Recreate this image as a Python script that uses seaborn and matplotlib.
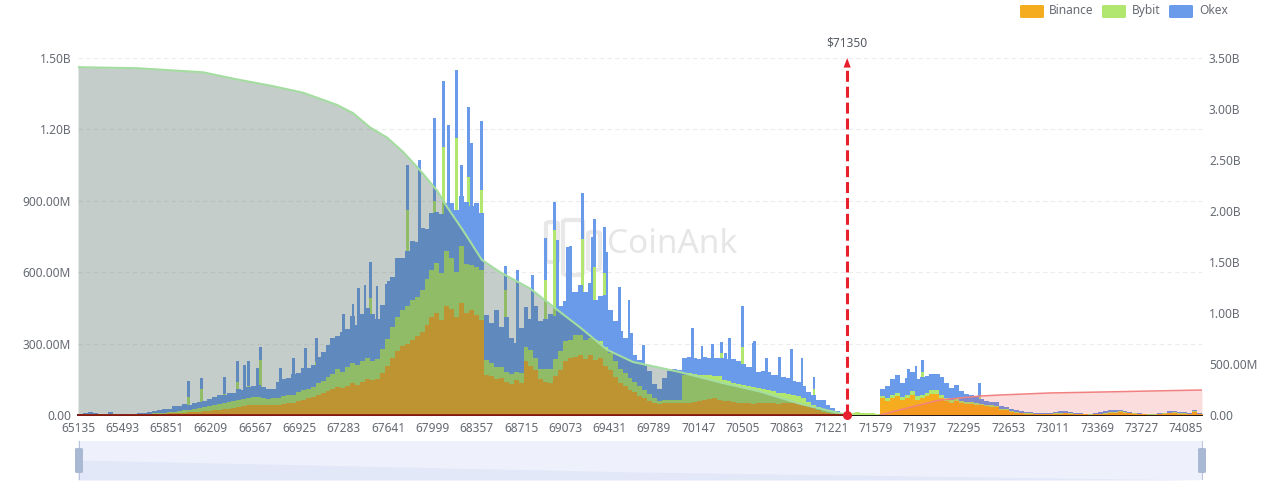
import numpy as np
import pandas as pd
import seaborn as sns
import matplotlib.pyplot as plt
from matplotlib.patches import FancyBboxPatch, Rectangle

# liquidation leverage per 40 USD price level, in millions
binance = [
    1, 3, 4, 3, 2, 2, 3, 2, 1, 1,
    1, 2, 3, 3, 4, 5, 5, 6, 7, 8,
    8, 10, 11, 13, 14, 16, 18, 20, 21, 24,
    25, 28, 32, 36, 40, 42, 44, 42, 40, 42,
    42, 46, 50, 52, 58, 64, 70, 75, 85, 92,
    100, 108, 118, 112, 122, 135, 128, 140, 150, 145,
    150, 178, 205, 240, 270, 290, 300, 315, 330, 350,
    380, 410, 430, 400, 460, 445, 410, 470, 430, 440,
    420, 400, 170, 165, 150, 155, 140, 130, 145, 135,
    225, 205, 190, 150, 140, 135, 165, 190, 225, 240,
    245, 250, 235, 250, 230, 240, 205, 190, 160, 135,
    120, 105, 95, 80, 70, 60, 50, 45, 50, 50,
    50, 50, 50, 52, 56, 60, 62, 68, 70, 65,
    60, 58, 55, 52, 50, 50, 48, 50, 50, 50,
    50, 48, 52, 50, 50, 52, 48, 36, 28, 20,
    12, 8, 4, 2, 0, 0, 0, 0, 0, 0,
    0, 0, 70, 60, 72, 78, 62, 70, 85, 65,
    72, 78, 88, 90, 72, 58, 52, 60, 50, 45,
    48, 42, 40, 38, 35, 32, 22, 20, 14, 10,
    8, 6, 5, 4, 3, 3, 4, 5, 6, 8,
    6, 5, 4, 3, 2, 3, 4, 6, 8, 10,
    12, 9, 7, 5, 4, 3, 2, 2, 3, 5,
    7, 8, 6, 5, 4, 14, 4, 3,
]
bybit = [
    1, 2, 2, 2, 1, 1, 3, 1, 1, 1,
    1, 1, 2, 2, 2, 3, 3, 4, 5, 6,
    8, 10, 11, 13, 14, 16, 20, 24, 26, 28,
    28, 30, 32, 30, 33, 34, 32, 30, 28, 29,
    30, 32, 34, 34, 38, 40, 40, 44, 48, 52,
    58, 66, 74, 68, 78, 84, 80, 86, 90, 80,
    85, 100, 115, 130, 140, 150, 160, 170, 165, 175,
    190, 200, 210, 195, 230, 215, 190, 240, 205, 190,
    200, 210, 60, 55, 50, 45, 40, 42, 36, 40,
    60, 70, 50, 45, 55, 60, 70, 80, 85, 75,
    90, 85, 80, 75, 85, 70, 80, 70, 65, 60,
    55, 50, 45, 40, 35, 30, 20, 15, 15, 15,
    15, 15, 120, 125, 115, 110, 105, 100, 95, 100,
    85, 85, 80, 78, 75, 70, 68, 62, 58, 55,
    50, 46, 42, 38, 34, 26, 24, 20, 16, 12,
    10, 10, 12, 10, 8, 8, 10, 14, 10, 8,
    8, 6, 10, 12, 14, 16, 12, 14, 16, 14,
    12, 14, 16, 14, 14, 12, 10, 10, 8, 8,
    8, 8, 6, 6, 5, 5, 4, 4, 3, 3,
    2, 2, 2, 2, 1, 2, 2, 2, 3, 2,
    2, 1, 1, 1, 1, 2, 2, 3, 4, 4,
    4, 3, 2, 2, 1, 1, 1, 1, 2, 2,
    3, 3, 2, 2, 2, 3, 1, 1,
]
okex = [
    3, 4, 5, 4, 2, 3, 6, 2, 1, 1,
    1, 2, 4, 5, 8, 8, 12, 16, 14, 22,
    22, 26, 20, 24, 28, 26, 30, 32, 36, 34,
    38, 36, 44, 40, 45, 44, 50, 46, 42, 40,
    68, 75, 70, 85, 80, 95, 88, 92, 110, 120,
    135, 150, 140, 170, 160, 195, 170, 200, 210, 200,
    170, 185, 230, 210, 250, 220, 230, 245, 230, 260,
    210, 240, 215, 250, 200, 230, 260, 210, 260, 250,
    270, 240, 190, 165, 240, 170, 230, 150, 120, 190,
    170, 130, 220, 200, 210, 230, 180, 190, 170, 200,
    180, 210, 200, 230, 170, 190, 220, 180, 170, 160,
    150, 130, 110, 110, 100, 95, 60, 50, 90, 120,
    130, 125, 70, 65, 70, 65, 75, 70, 75, 75,
    95, 92, 100, 95, 90, 80, 85, 70, 75, 75,
    70, 75, 66, 68, 60, 62, 50, 40, 40, 30,
    40, 25, 15, 6, 0, 0, 0, 0, 0, 0,
    0, 0, 30, 50, 65, 75, 60, 70, 80, 72,
    75, 72, 70, 68, 75, 65, 50, 55, 42, 35,
    26, 24, 20, 16, 14, 16, 12, 10, 8, 6,
    6, 4, 4, 3, 3, 4, 4, 5, 6, 5,
    4, 2, 2, 2, 2, 4, 6, 8, 8, 6,
    5, 4, 3, 2, 2, 2, 1, 1, 2, 3,
    5, 6, 5, 4, 3, 6, 2, 2,
]

# single tall price levels sticking out of the stack (millions)
spike_price = [66024, 66129, 66315, 66420, 66484, 66509, 66589, 66606, 66775, 66880, 66977, 67066,
               67284, 67357, 67405, 67454, 67502, 67551, 67640, 67704, 67801, 67898, 68019, 68092,
               68125, 68197, 68230, 68294, 68318, 68399, 68593, 68690, 68811, 68916, 68989, 69013,
               69094, 69118, 69215, 69296, 69312, 69393, 69409, 69514, 69587, 69611, 69708, 70104,
               70177, 70258, 70331, 70363, 70403, 70508, 70589, 70605, 70702, 70807, 70904, 70985,
               71082, 71849, 71906, 71955, 72084, 72423]
spike_okex = [143, 155, 160, 227, 210, 227, 197, 286, 197, 239, 281, 323,
              424, 466, 533, 546, 643, 542, 563, 538, 1050, 1070, 1247, 1403,
              1218, 1449, 1050, 1294, 1142, 1235, 626, 609, 588, 743, 895, 735,
              706, 710, 932, 748, 823, 790, 685, 538, 483, 344, 294, 365,
              290, 298, 307, 260, 323, 458, 302, 311, 239, 244, 277, 239,
              160, 193, 206, 231, 172, 134]
spike_bybit = [76, 110, 90, 139, 0, 120, 0, 231, 120, 0, 0, 222,
               0, 0, 0, 0, 491, 0, 0, 0, 860, 700, 900, 1126,
               0, 1163, 0, 1000, 0, 945, 525, 0, 0, 567, 777, 0,
               0, 0, 739, 0, 622, 596, 0, 0, 0, 0, 0, 0,
               0, 0, 262, 0, 0, 286, 0, 0, 0, 0, 0, 0,
               110, 0, 0, 180, 0, 76]

# cumulative long / short curves, right axis (billions)
long_price = [65135, 65612, 65878, 66145, 66420, 66686, 66953, 67228, 67357, 67494, 67632, 67761,
              67898, 68036, 68117, 68246, 68399, 68545, 68787, 69030, 69191, 69409, 69619, 70001,
              70322, 70646, 70969, 71350]
long_total = [3.41, 3.40, 3.38, 3.36, 3.29, 3.23, 3.16, 3.04, 2.96, 2.82, 2.72, 2.58,
              2.40, 2.20, 2.04, 1.81, 1.52, 1.40, 1.24, 1.01, 0.86, 0.64, 0.52, 0.42,
              0.32, 0.23, 0.11, 0.0]
short_price = [71615, 71777, 71938, 72100, 72262, 72423, 72585, 72989, 73393, 73797, 74217]
short_total = [0.0, 0.05, 0.10, 0.147, 0.167, 0.186, 0.196, 0.216, 0.225, 0.235, 0.245]

x_ticks = [65135 + 358 * k for k in range(26)]
left_ticks = [0, 300, 600, 900, 1200, 1500]
left_labels = ['0.00', '300.00M', '600.00M', '900.00M', '1.20B', '1.50B']
right_ticks = [0, 0.5, 1.0, 1.5, 2.0, 2.5, 3.0, 3.5]
right_labels = ['0.00', '500.00M', '1.00B', '1.50B', '2.00B', '2.50B', '3.00B', '3.50B']

slider_price = [65135, 69670, 74217]
slider_top = [20, 8, 0]

current_price = 71350
exchanges = ['Binance', 'Bybit', 'Okex']
colors = {'Binance': '#F5AC1E', 'Bybit': '#B1E76E', 'Okex': '#6A9BEB'}
TXT = '#666a72'

sns.set_theme(style='white')
plt.rcParams['font.family'] = ['Noto Sans', 'DejaVu Sans']
plt.rcParams['font.size'] = 8.6

W, H = 1280, 484
fig = plt.figure(figsize=(W / 100, H / 100), dpi=100, facecolor='white')


def box(x0, y0, x1, y1):
    # pixel box of the screenshot -> figure fractions
    return [x0 / W, 1 - y1 / H, (x1 - x0) / W, (y1 - y0) / H]


ax = fig.add_axes(box(78, 58, 1202, 415))
x_end = 74217

# stacked bars
levels = 65135 + 40 * np.arange(len(binance))
df = pd.DataFrame({
    'price': np.tile(levels + 20, 3),
    'value': binance + bybit + okex,
    'exchange': np.repeat(exchanges, len(binance)),
})

# watermark sits behind everything
ax.text((607 - 78) / 1124, (415 - 245) / 357, 'CoinAnk', transform=ax.transAxes, color='#e6e6e6',
        fontsize=24, fontweight='bold', va='center', ha='left', zorder=0)
for x0, x1, y0, y1 in [(546, 558, 222, 262), (563, 583, 220, 275), (588, 600, 232, 270)]:
    ax.add_patch(FancyBboxPatch(((x0 - 78) / 1124, (415 - y1) / 357), (x1 - x0) / 1124, (y1 - y0) / 357,
                                boxstyle='round,pad=0,rounding_size=0.005', transform=ax.transAxes,
                                fc='none', ec='#e8e8e8', lw=3, zorder=0))

ax.bar(spike_price, spike_okex, width=24, color=colors['Okex'], lw=0, zorder=2)
ax.bar(spike_price, spike_bybit, width=24, color=colors['Bybit'], lw=0, zorder=2.1)
# first hue ends up on top of the stack
sns.histplot(data=df, x='price', weights='value', hue='exchange', hue_order=exchanges[::-1],
             multiple='stack', element='step', binwidth=40,
             binrange=(65135, 65135 + 40 * len(binance)),
             palette=colors, alpha=1, linewidth=0, legend=False, ax=ax, zorder=3)

ax.set_xlim(65135, x_end)
ax.set_ylim(0, 1500)
ax.set_xlabel('')
ax.set_ylabel('')
ax.set_xticks(x_ticks)
ax.set_xticklabels(x_ticks)
ax.set_yticks(left_ticks)
ax.set_yticklabels(left_labels)
ax.tick_params(axis='both', length=0, labelsize=8.6, labelcolor=TXT)
ax.tick_params(axis='x', pad=5)
ax.tick_params(axis='y', pad=5)
ax.grid(axis='y', color='#ececec', ls=(0, (4, 3)), lw=0.8)
ax.set_axisbelow(True)
for s in ['top', 'left', 'right']:
    ax.spines[s].set_visible(False)
ax.spines['bottom'].set_color('black')
ax.spines['bottom'].set_linewidth(1.3)

# cumulative curves on the second axis
ax2 = ax.twinx()
ax2.fill_between(long_price, long_total, 0, color='#4B645D', alpha=0.32, lw=0, zorder=3)
ax2.fill_between(short_price, short_total, 0, color='#F03030', alpha=0.16, lw=0, zorder=3)
sns.lineplot(x=long_price, y=long_total, color='#A4DDA0', lw=1.5, ax=ax2, zorder=4, errorbar=None)
sns.lineplot(x=short_price, y=short_total, color='#F28080', lw=1.1, ax=ax2, zorder=4, errorbar=None)
ax2.plot([65135, current_price], [0, 0], color='#8A1A10', lw=1.3, zorder=5, clip_on=False)

ax2.set_xlim(65135, x_end)
ax2.set_ylim(0, 3.5)
ax2.set_yticks(right_ticks)
ax2.set_yticklabels(right_labels)
ax2.tick_params(axis='y', length=0, labelsize=8.6, labelcolor=TXT, pad=5)
ax2.set_ylabel('')
ax2.grid(False)
for s in ax2.spines.values():
    s.set_visible(False)

# current price marker
ax2.plot([current_price, current_price], [0, 3.38], color='#E8202E', lw=2.2, ls=(0, (3.6, 1.6)),
         zorder=6)
ax2.annotate('', xy=(current_price, 3.5), xytext=(current_price, 3.34),
             arrowprops=dict(arrowstyle='-|>,head_width=0.3,head_length=0.8', color='#E8202E', lw=0,
                             shrinkA=0, shrinkB=0), zorder=6, annotation_clip=False)
ax2.scatter([current_price], [0], s=42, color='#E8202E', lw=0, zorder=7, clip_on=False)
ax2.text(current_price, 3.65, '$71350', ha='center', va='center', color='#555a62', fontsize=8.6)

# legend
for name, x0, x_txt in [('Binance', 1020, 1049), ('Bybit', 1102, 1132), ('Okex', 1169, 1199)]:
    fig.add_artist(FancyBboxPatch((x0 / W, 1 - 18 / H), 24 / W, 13 / H, transform=fig.transFigure,
                                  boxstyle='round,pad=0,rounding_size=0.002', fc=colors[name], lw=0))
    fig.text(x_txt / W, 1 - 10.5 / H, name, color=TXT, fontsize=8.6, va='center', ha='left')

# data zoom slider
sl = fig.add_axes(box(78, 441, 1202, 480))
sl.add_patch(Rectangle((0, 0), 1, 1, transform=sl.transAxes, fc='#EEF1FB', lw=0))
sl.fill_between(slider_price, slider_top, 0, color='#E3E8F9', lw=0)
sl.set_xlim(65135, x_end)
sl.set_ylim(0, 39)
sl.axis('off')
for xc in [79, 1202]:
    fig.add_artist(Rectangle(((xc - 0.5) / W, 1 - 480 / H), 1 / W, 39 / H, transform=fig.transFigure,
                             fc='#B8C4DA', lw=0))
    fig.add_artist(FancyBboxPatch(((xc - 4) / W, 1 - 473 / H), 8 / W, 25 / H, transform=fig.transFigure,
                                  boxstyle='round,pad=0,rounding_size=0.002', fc='#A9B9D3', lw=0))

fig.savefig('out.png', dpi=100)
